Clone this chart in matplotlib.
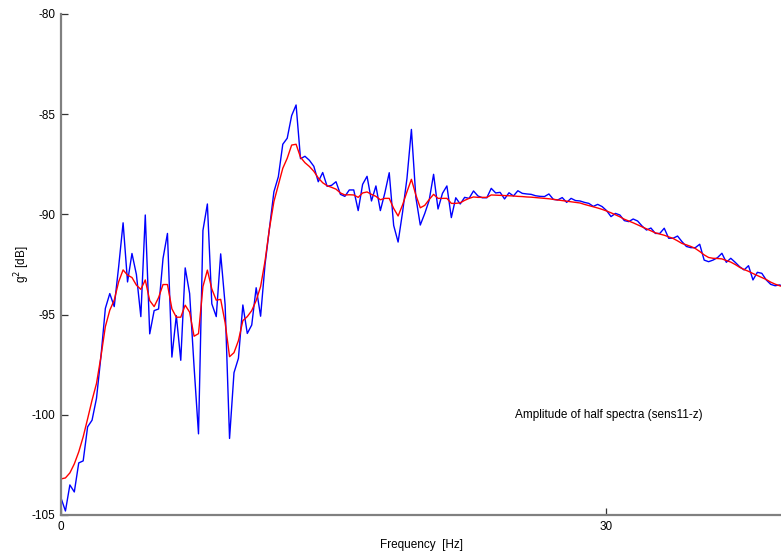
import numpy as np
import matplotlib
matplotlib.use("Agg")
import matplotlib.pyplot as plt

# frequency resolution of the spectrum (Hz)
df = 1000.0 / 4096.0

blue_db = [
    -104.15, -104.8, -103.5, -103.85, -102.4, -102.3, -100.6, -100.27, -99.18, -97.1,
    -94.69, -93.95, -94.6, -92.61, -90.42, -93.37, -91.95, -93.0, -95.1, -90.03,
    -95.96, -94.8, -94.72, -92.2, -90.95, -97.12, -95.05, -97.28, -92.67, -93.95,
    -97.6, -100.95, -90.8, -89.48, -94.46, -95.1, -91.97, -94.5, -101.18, -97.9,
    -97.18, -94.52, -95.94, -95.52, -93.66, -95.08, -92.5, -90.69, -88.87, -88.12,
    -86.5, -86.2, -85.07, -84.54, -87.22, -87.1, -87.3, -87.6, -88.37, -87.91,
    -88.6, -88.55, -88.37, -89.0, -89.1, -88.78, -88.78, -89.81, -88.5, -88.1,
    -89.33, -88.58, -89.81, -88.94, -87.92, -90.55, -91.38, -89.9, -88.2, -85.76,
    -89.15, -90.53, -89.96, -89.3, -88.0, -89.73, -88.95, -88.58, -90.16, -89.17,
    -89.48, -89.15, -89.2, -88.83, -89.08, -89.17, -89.17, -88.7, -88.93, -88.9,
    -89.23, -88.92, -89.08, -88.82, -88.95, -88.98, -89.0, -89.07, -89.1, -89.11,
    -88.98, -89.25, -89.28, -89.16, -89.4, -89.2, -89.31, -89.33, -89.4, -89.45,
    -89.6, -89.5, -89.61, -89.81, -90.11, -89.95, -90.03, -90.31, -90.36, -90.23,
    -90.33, -90.58, -90.78, -90.68, -90.95, -90.95, -90.69, -91.19, -91.19, -91.08,
    -91.36, -91.6, -91.66, -91.66, -91.49, -92.28, -92.36, -92.28, -92.16, -91.94,
    -92.39, -92.19, -92.39, -92.61, -92.77, -92.56, -93.27, -92.89, -92.94, -93.27,
    -93.49, -93.56, -93.52, -93.6,
]

red_db = [
    -103.2, -103.15, -102.9, -102.45, -101.85, -101.1, -100.2, -99.27, -98.44, -97.1,
    -95.6, -94.78, -94.28, -93.36, -92.77, -93.03, -93.15, -93.53, -93.74, -93.27,
    -94.3, -94.6, -94.15, -93.5, -93.5, -94.71, -95.13, -95.13, -94.53, -94.88,
    -96.08, -95.95, -93.6, -92.78, -93.72, -94.28, -94.24, -95.4, -97.1, -96.9,
    -96.3, -95.3, -95.1, -94.8, -94.3, -93.6, -92.33, -90.7, -89.36, -88.53,
    -87.7, -87.2, -86.54, -86.5, -87.15, -87.42, -87.61, -87.85, -88.18, -88.42,
    -88.57, -88.65, -88.74, -88.93, -89.03, -89.02, -89.03, -89.15, -88.93, -88.88,
    -89.0, -89.1, -89.27, -89.2, -89.2, -89.7, -90.08, -89.53, -88.87, -88.25,
    -89.03, -89.67, -89.55, -89.26, -89.0, -89.2, -89.2, -89.2, -89.45, -89.45,
    -89.42, -89.3, -89.2, -89.13, -89.15, -89.15, -89.15, -89.03, -89.04, -89.05,
    -89.06, -89.07, -89.08, -89.1, -89.11, -89.13, -89.14, -89.16, -89.18, -89.2,
    -89.22, -89.25, -89.28, -89.31, -89.34, -89.37, -89.4, -89.43, -89.5, -89.56,
    -89.62, -89.68, -89.75, -89.83, -89.92, -90.02, -90.12, -90.24, -90.33, -90.42,
    -90.52, -90.62, -90.72, -90.82, -90.92, -90.98, -91.04, -91.12, -91.2, -91.32,
    -91.45, -91.52, -91.6, -91.7, -91.85, -92.02, -92.15, -92.19, -92.2, -92.22,
    -92.3, -92.38, -92.5, -92.64, -92.75, -92.84, -92.95, -93.05, -93.15, -93.25,
    -93.38, -93.48, -93.56, -93.62,
]

y_ticks = [-105, -100, -95, -90, -85, -80]
x_ticks = [0, 30]
annotation = "Amplitude of half spectra (sens11-z)"

freq = np.arange(len(blue_db)) * df

plt.rcParams['font.family'] = ['Liberation Sans', 'DejaVu Sans']

W, H = 781, 554
fig = plt.figure(figsize=(W / 100, H / 100), dpi=100)
ax = fig.add_axes([61 / W, 39 / H, (781 - 61) / W, 501 / H])

ax.plot(freq, blue_db, color=(0, 0, 1), lw=1.0)
ax.plot(freq, red_db, color=(1, 0, 0), lw=1.0)

ax.set_xlim(0, 39.63)
ax.set_ylim(-105, -80)
ax.set_xticks(x_ticks)
ax.set_xticklabels([str(t) for t in x_ticks])
ax.set_yticks(y_ticks)
ax.set_yticklabels([str(t) for t in y_ticks])

for s in ['top', 'right']:
    ax.spines[s].set_visible(False)
for s in ['left', 'bottom']:
    ax.spines[s].set_color('#808080')
    ax.spines[s].set_linewidth(1.6)

ax.tick_params(direction='in', length=5, width=0.9, color='#333333',
               labelsize=8.5, pad=4)

ax.set_xlabel('Frequency  [Hz]', fontsize=8.5, labelpad=4.5)
ax.set_ylabel('g$^2$ [dB]', fontsize=8.5, labelpad=0)

ax.text(25.0, -100.0, annotation, fontsize=8.5, ha='left', va='center')

fig.savefig('out.png', dpi=100)
